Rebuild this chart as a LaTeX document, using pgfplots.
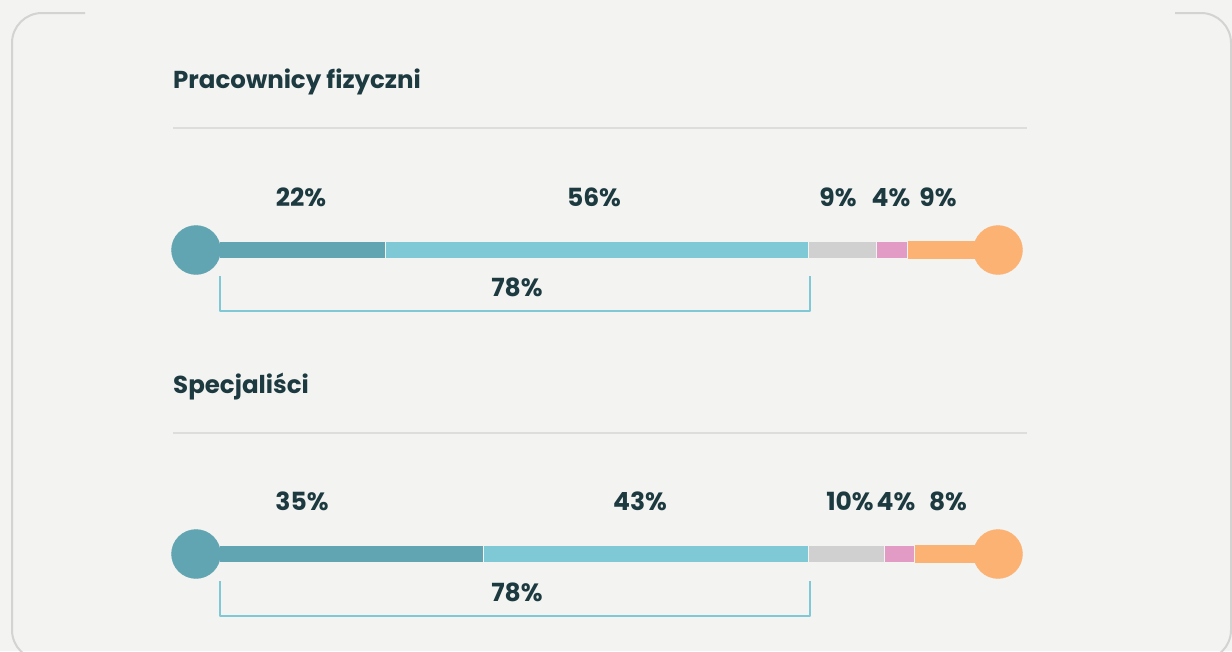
\documentclass[border=0pt]{standalone}
\usepackage{fontspec}
\setmainfont{Poppins}
\usepackage{pgfplots}
\pgfplotsset{compat=1.18}
\definecolor{bg}{HTML}{F3F3F1}
\definecolor{bordercol}{HTML}{D3D3D2}
\definecolor{sepcol}{HTML}{DDDDDB}
\definecolor{txt}{HTML}{1C3A40}
\definecolor{cdark}{HTML}{62A5B2}
\definecolor{clight}{HTML}{7FC9D6}
\definecolor{cgray}{HTML}{D0D0D0}
\definecolor{cpink}{HTML}{E29BC4}
\definecolor{corange}{HTML}{FCB273}
\newcommand{\lbl}{\bfseries\fontsize{25}{25}\selectfont}
\newcommand{\ttl}{\bfseries\fontsize{24.5}{24.5}\selectfont}
\pgfplotsset{
  base/.style={scale only axis, width=1232pt, height=651pt, ymin=0, ymax=651,
    y dir=reverse, hide axis, clip=false},
  pix/.style={base, xmin=0, xmax=1232},
}
\begin{document}
\begin{tikzpicture}
% background, border, separators, brackets
\begin{axis}[pix, name=ax]
\fill[bg] (axis cs:0,0) rectangle (axis cs:1232,651);
\draw[bordercol, line width=2pt, rounded corners=30pt]
  (axis cs:85,13) -- (axis cs:12,13) -- (axis cs:12,660) -- (axis cs:1231,660)
  -- (axis cs:1231,13) -- (axis cs:1175,13);
\draw[sepcol, line width=2pt] (axis cs:173,128) -- (axis cs:1027,128);
\draw[sepcol, line width=2pt] (axis cs:173,433) -- (axis cs:1027,433);
\draw[clight, line width=2.5pt, line join=round]
  (axis cs:220,276) -- (axis cs:220,311) -- (axis cs:810,311) -- (axis cs:810,276);
\draw[clight, line width=2.5pt, line join=round]
  (axis cs:220,581) -- (axis cs:220,616) -- (axis cs:810,616) -- (axis cs:810,581);
\end{axis}
% stacked bars in percent
\begin{axis}[base, xmin=-28.968, xmax=133.995, xbar stacked, bar width=16.5pt]
\addplot[fill=cdark, draw=bg, line width=0.6pt] coordinates {(22,250) (35,554)};
\addplot[fill=clight, draw=bg, line width=0.6pt] coordinates {(56,250) (43,554)};
\addplot[fill=cgray, draw=bg, line width=0.6pt] coordinates {(9,250) (10,554)};
\addplot[fill=cpink, draw=bg, line width=0.6pt] coordinates {(4,250) (4,554)};
\addplot[fill=corange, draw=corange, line width=0.6pt] coordinates {(9,250) (8,554)};
\end{axis}
% end circles and texts
\begin{axis}[pix]
\addplot[only marks, mark=*, mark size=24.5pt, color=cdark] coordinates {(196,250) (196,554)};
\addplot[only marks, mark=*, mark size=24.5pt, color=corange] coordinates {(998,250) (998,554)};
\begin{scope}[every node/.style={text=txt, inner sep=0pt}]
\node[anchor=base west, font=\ttl] at (axis cs:173,88) {Pracownicy fizyczni};
\node[anchor=base west, font=\ttl] at (axis cs:173,393) {Specjaliści};
\node[anchor=base, font=\lbl] at (axis cs:301,206) {22\%};
\node[anchor=base, font=\lbl] at (axis cs:594,206) {56\%};
\node[anchor=base, font=\lbl] at (axis cs:838,206) {9\%};
\node[anchor=base, font=\lbl] at (axis cs:891,206) {4\%};
\node[anchor=base, font=\lbl] at (axis cs:938,206) {9\%};
\node[anchor=base, font=\lbl] at (axis cs:517,296) {78\%};
\node[anchor=base, font=\lbl] at (axis cs:302,510) {35\%};
\node[anchor=base, font=\lbl] at (axis cs:640,510) {43\%};
\node[anchor=base, font=\lbl] at (axis cs:850,510) {10\%};
\node[anchor=base, font=\lbl] at (axis cs:896,510) {4\%};
\node[anchor=base, font=\lbl] at (axis cs:948,510) {8\%};
\node[anchor=base, font=\lbl] at (axis cs:517,601) {78\%};
\end{scope}
\end{axis}
\pgfresetboundingbox
\path (ax.south west) rectangle (ax.north east);
\end{tikzpicture}
\end{document}
